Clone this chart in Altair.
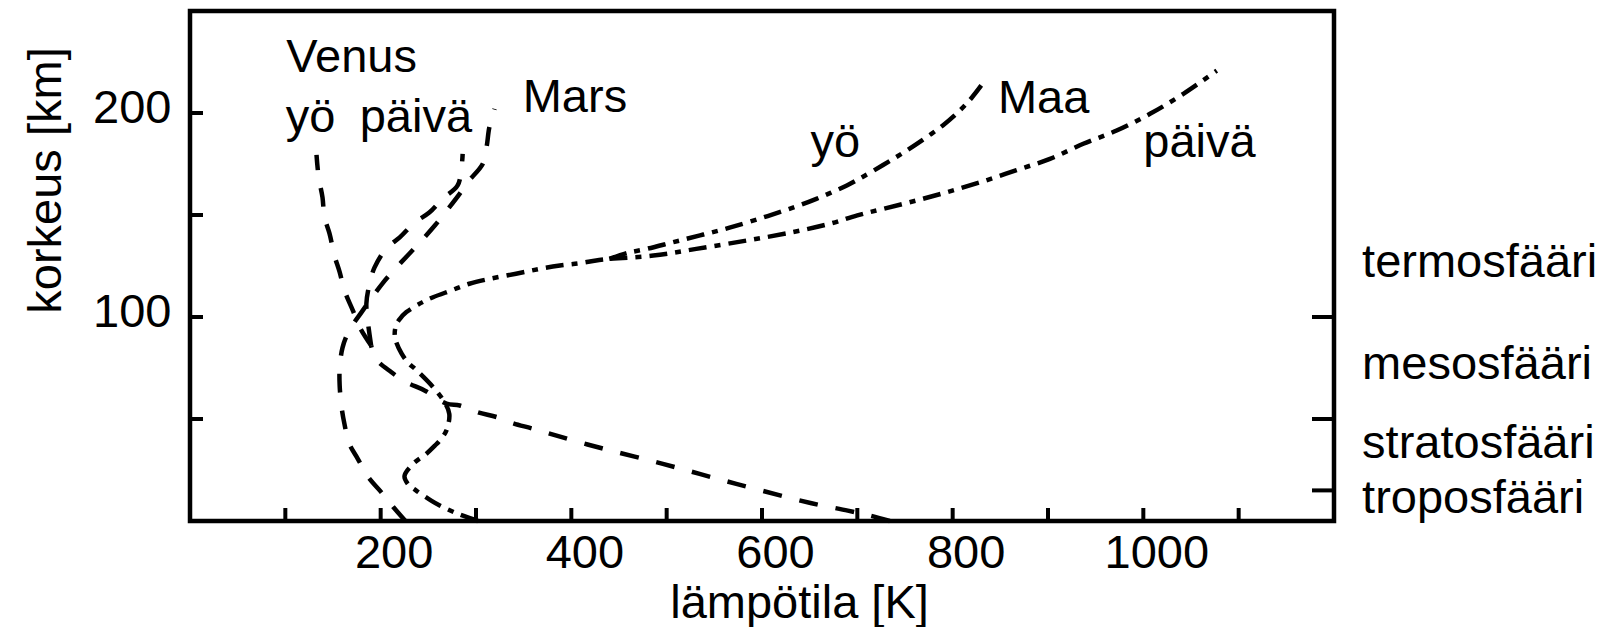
import altair as alt
import pandas as pd

# ---------------- data (temperature K, altitude km) ----------------
venus_low_K = [734, 713, 690, 652, 573, 496, 417, 360, 339, 322, 302, 283, 269, 246, 227, 211, 195, 190]
venus_low_km = [0, 2.7, 5.1, 8.7, 18.2, 28, 37.5, 45.2, 47.9, 50.9, 53.3, 56.6, 57.5, 64, 68, 73, 79.5, 86]

venus_night_K = [190, 178, 171, 162, 157, 151.6, 146.3, 141, 139, 135, 132.7]
venus_night_km = [86, 95, 103, 113, 122, 130, 141, 149, 158.6, 168.4, 179.5]

venus_day_K = [190, 186.6, 185, 188.4, 193.6, 206, 220, 235.6, 251, 265, 280.7, 285, 286]
venus_day_km = [86, 97.5, 106.5, 116.4, 124.3, 133.6, 139, 146.3, 151.2, 158, 164.5, 174.3, 180]

mars_K = [226, 213, 199, 187, 176, 167, 162, 159, 157, 157, 160, 167, 180, 190, 202, 214,
          230, 241, 257, 269, 283, 291, 307, 311, 314, 319.5]
mars_km = [0, 7, 15, 21.5, 30.5, 38, 47.6, 55.8, 66.4, 74.6, 85, 93.4, 102.4, 109, 116.5, 123,
           131, 136.5, 145, 152, 160.5, 166, 175, 183, 193, 202]

earth_low_K = [302, 281, 262, 253, 237, 228.5, 225, 234, 248, 257, 262, 269, 272, 267, 255, 236,
               230, 222, 215, 216, 220, 227, 244, 255, 274, 293, 314, 342, 367, 388, 409, 426, 440]
earth_low_km = [0, 3.5, 7.6, 10, 15, 18.2, 22, 28, 33, 37, 39.5, 44.4, 52.5, 58.2, 65.6, 74.6,
                77, 82, 90, 95.8, 99, 102.4, 107.3, 109.7, 113, 116.3, 118.7, 121.2, 123.6, 125.2,
                126.4, 127.7, 128.5]

earth_night_K = [440, 458, 479, 507, 535, 566, 606, 636, 657, 689, 703, 727, 748, 769, 790,
                 807.5, 820, 830]
earth_night_km = [128.5, 131.3, 133.4, 136.7, 140, 143.8, 149.5, 154.2, 157.9, 164.5, 168,
                  174.5, 180.5, 187, 194, 201.2, 207.5, 213.5]

earth_day_K = [440, 486, 531, 584, 632.5, 671, 700, 727, 762, 797, 832, 867, 902, 937, 972,
               1007, 1042, 1077]
earth_day_km = [128.5, 130.1, 133.4, 137.5, 141.6, 145.7, 149.8, 153, 157.1, 161.6, 166.5, 172,
                177.5, 184.9, 191.4, 199.6, 209.4, 220.8]

# axis ticks / labels
x_tick_values = [100, 200, 300, 400, 500, 600, 700, 800, 900, 1000, 1100]
x_label_values = [200, 400, 600, 800, 1000]
y_tick_values = [50, 100, 150, 200]
y_label_values = [100, 200]
layer_tick_values = [15, 50, 100]

# text annotations
labels = ["Venus", "yö", "päivä", "Mars", "Maa", "yö", "päivä",
          "termosfääri", "mesosfääri", "stratosfääri", "troposfääri"]
label_K = [101, 100.5, 178, 349, 847.5, 651, 1000, 1229.5, 1229.5, 1229.5, 1229.5]
label_km = [220, 190.6, 190.6, 200.4, 200, 178.6, 178.6, 119.5, 69.7, 31, 3.7]

# ---------------- build tables ----------------
def curve(name, ks, kms):
    return pd.DataFrame({"series": name, "K": ks, "km": kms, "i": range(len(ks))})

dashed = pd.concat([
    curve("Venus", venus_low_K, venus_low_km),
    curve("Venus yö", venus_night_K, venus_night_km),
    curve("Venus päivä", venus_day_K, venus_day_km),
    curve("Mars", mars_K, mars_km),
], ignore_index=True)

dashdot = pd.concat([
    curve("Maa", earth_low_K, earth_low_km),
    curve("Maa yö", earth_night_K, earth_night_km),
    curve("Maa päivä", earth_day_K, earth_day_km),
], ignore_index=True)

texts = pd.DataFrame({"label": labels, "K": label_K, "km": label_km})

W, H = 1144, 510
FONT = "Liberation Sans"
FS = 47

xscale = alt.Scale(domain=[0, 1200], nice=False, zero=False)
yscale = alt.Scale(domain=[0, 250], nice=False, zero=False)

xaxis = alt.Axis(values=x_label_values, ticks=False, domain=False, grid=False,
                 labelPadding=9, labelOffset=13, labelFontSize=FS, labelFont=FONT,
                 labelColor="black", format="d",
                 title="lämpötila [K]", titleFontSize=FS, titleFont=FONT,
                 titleFontWeight="normal", titleColor="black",
                 titleX=609, titleY=96, titleBaseline="alphabetic", titleAlign="center")
yaxis = alt.Axis(values=y_label_values, ticks=False, domain=False, grid=False,
                 labelPadding=19, labelOffset=-5, labelFontSize=FS, labelFont=FONT,
                 labelColor="black", format="d",
                 title="korkeus [km]", titleFontSize=FS, titleFont=FONT,
                 titleFontWeight="normal", titleColor="black", titleAngle=270,
                 titleX=-130, titleY=169, titleBaseline="alphabetic", titleAlign="center")

X = alt.X("K:Q", scale=xscale, axis=xaxis)
Y = alt.Y("km:Q", scale=yscale, axis=yaxis)

lines_dashed = alt.Chart(dashed).mark_line(
    color="black", strokeWidth=4.5, strokeDash=[19, 18], interpolate="catmull-rom"
).encode(x=X, y=Y, detail="series:N", order="i:Q")

lines_dashdot = alt.Chart(dashdot).mark_line(
    color="black", strokeWidth=4.5, strokeDash=[18, 8, 6, 8], interpolate="catmull-rom"
).encode(x=X, y=Y, detail="series:N", order="i:Q")

xticks = alt.Chart(pd.DataFrame({"K": x_tick_values})).mark_rule(
    color="black", strokeWidth=4
).encode(x=X, y=alt.value(H), y2=alt.value(H - 13))

yticks = alt.Chart(pd.DataFrame({"km": y_tick_values})).mark_rule(
    color="black", strokeWidth=4
).encode(y=Y, x=alt.value(0), x2=alt.value(13))

rticks = alt.Chart(pd.DataFrame({"km": layer_tick_values})).mark_rule(
    color="black", strokeWidth=4
).encode(y=Y, x=alt.value(W), x2=alt.value(W - 22))

text_layer = alt.Chart(texts).mark_text(
    font=FONT, fontSize=FS, color="black", align="left", baseline="alphabetic"
).encode(x=X, y=Y, text="label:N")

chart = alt.layer(
    lines_dashed, lines_dashdot, xticks, yticks, rticks, text_layer
).properties(
    width=W, height=H,
    background="white",
    autosize=alt.AutoSizeParams(type="none"),
    padding={"left": 182, "top": 3, "right": 268, "bottom": 106},
).configure_view(
    stroke="black", strokeWidth=4.5
)

chart.save("out.html", embed_options={"renderer": "svg", "actions": False})
